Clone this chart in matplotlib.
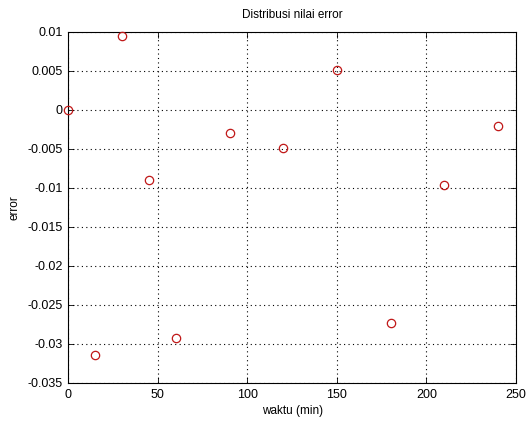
import matplotlib
matplotlib.use("Agg")
import matplotlib.pyplot as plt

# data
waktu = [0, 15, 30, 45, 60, 90, 120, 150, 180, 210, 240]
error = [0.0, -0.0314, 0.0094, -0.0090, -0.0292, -0.0030, -0.0049,
         0.0051, -0.0273, -0.0097, -0.0021]

xticks = [0, 50, 100, 150, 200, 250]
yticks = [-0.035, -0.03, -0.025, -0.02, -0.015, -0.01, -0.005, 0, 0.005, 0.01]
yticklabels = ["-0.035", "-0.03", "-0.025", "-0.02", "-0.015", "-0.01",
               "-0.005", "0", "0.005", "0.01"]

plt.rcParams['font.family'] = ['Liberation Sans', 'DejaVu Sans']

fig = plt.figure(figsize=(5.26, 4.21), dpi=100)
ax = fig.add_axes([0.130, 0.0903, 0.851, 0.8344])

ax.plot(waktu, error, 'o', markerfacecolor='none', markeredgecolor='#c01818',
        markersize=6, markeredgewidth=0.9, clip_on=False, zorder=3)

ax.set_xlim(0, 250)
ax.set_ylim(-0.035, 0.01)
ax.set_xticks(xticks)
ax.set_yticks(yticks)
ax.set_yticklabels(yticklabels)

ax.grid(True, linestyle=(0, (1, 3)), color='black', linewidth=0.8)
ax.tick_params(direction='in', top=True, right=True, labelsize=9, length=4,
               width=0.6, pad=4)
for s in ax.spines.values():
    s.set_linewidth(0.8)

ax.set_title("Distribusi nilai error", fontsize=8.5, pad=10)
ax.set_xlabel("waktu (min)", fontsize=8.5, labelpad=3)
ax.set_ylabel("error", fontsize=8.5, labelpad=5)

fig.savefig("out.png", dpi=100)
